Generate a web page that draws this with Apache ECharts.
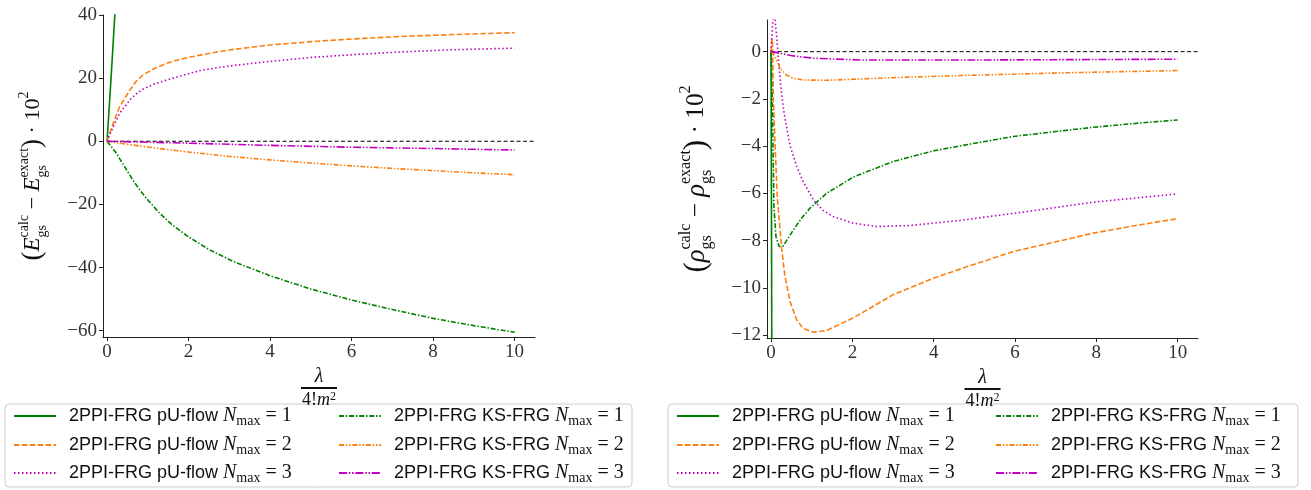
<!DOCTYPE html>
<html><head><meta charset="utf-8">
<script src="https://cdn.jsdelivr.net/npm/echarts@6/dist/echarts.min.js"></script>
<style>html,body{margin:0;padding:0;background:#fff}#c{width:1311px;height:490px}</style>
</head><body><div id="c"></div><script>
// ---------- data ----------
const xTicks = [0, 2, 4, 6, 8, 10];
const yTicksE = [-60, -40, -20, 0, 20, 40];
const yTicksRho = [-12, -10, -8, -6, -4, -2, 0];
const zeroLine = [[0, 0], [10.5, 0]];

// Energy deviation (left panel)
const pU1_E = [[0,0],[0.1,20.5],[0.2,42],[0.3,64]];
const pU2_E = [[0,0],[0.05,2],[0.15,5.7],[0.31,11],[0.56,16.2],[0.7,18.8],[0.88,21],[1.15,23.0],[1.46,24.7],[1.8,26.0],[2.28,27.3],[2.7,28.3],[3.1,29.1],[4,30.5],[5.06,31.6],[6,32.4],[7.2,33.2],[8.5,33.8],[10,34.4]];
const pU3_E = [[0,0],[0.05,1.6],[0.15,4.6],[0.31,8.9],[0.56,13.1],[0.7,14.9],[0.88,16.5],[1.15,18.1],[1.46,19.4],[1.8,20.7],[2.28,22.4],[2.7,23.3],[3.1,24.0],[3.92,25.2],[5.06,26.6],[6,27.4],[7.2,28.3],[8.5,29.0],[10,29.5]];
const KS1_E = [[0,0],[0.1,-1.6],[0.23,-3.8],[0.35,-6.4],[0.48,-9.1],[0.63,-12.2],[0.8,-15.4],[1.0,-18.6],[1.29,-22.8],[1.6,-26.5],[1.99,-30.2],[2.5,-34.3],[3.1,-38.1],[4,-42.6],[5,-46.8],[6,-50.3],[7,-53.3],[8,-56.1],[9,-58.4],[10,-60.5]];
const KS2_E = [[0,0],[0.3,-0.6],[0.8,-1.5],[1.4,-2.5],[2,-3.4],[3,-4.8],[4,-5.9],[5,-6.9],[6,-7.8],[7,-8.6],[8,-9.3],[9,-10.0],[10,-10.6]];
const KS3_E = [[0,0],[1,-0.3],[2,-0.6],[3,-0.95],[4,-1.3],[5,-1.6],[6,-1.9],[7,-2.1],[8,-2.3],[9,-2.55],[10,-2.76]];

// Density deviation (right panel)
const pU1_R = [[0,0],[0.02,-14]];
const pU2_R = [[0,0],[0.02,0.55],[0.035,0.4],[0.057,-2.0],[0.1,-4.0],[0.155,-6.2],[0.26,-8.3],[0.34,-9.5],[0.47,-10.6],[0.63,-11.35],[0.79,-11.72],[1.04,-11.88],[1.37,-11.8],[2.02,-11.27],[3,-10.29],[4,-9.58],[5,-9.0],[5.96,-8.46],[7,-8.05],[7.93,-7.68],[9,-7.35],[10,-7.07]];
const pU3_R = [[0,0],[0.03,1.0],[0.06,1.6],[0.09,1.5],[0.14,0.6],[0.18,-0.3],[0.24,-1.5],[0.32,-2.6],[0.47,-4.0],[0.63,-4.85],[0.79,-5.5],[1.05,-6.3],[1.3,-6.75],[1.53,-6.98],[2.02,-7.26],[2.6,-7.4],[3.42,-7.36],[4.65,-7.14],[6.29,-6.77],[7.93,-6.37],[10,-6.02]];
const KS1_R = [[0,0],[0.02,-1.5],[0.04,-3.0],[0.07,-6.55],[0.12,-7.82],[0.2,-8.25],[0.3,-8.22],[0.55,-7.54],[0.75,-7.05],[0.96,-6.62],[1.37,-5.99],[2.02,-5.31],[3,-4.65],[3.99,-4.2],[5,-3.88],[5.96,-3.59],[7,-3.38],[7.93,-3.2],[9,-3.03],[10,-2.89]];
const KS2_R = [[0,0],[0.04,0],[0.1,-0.21],[0.22,-0.7],[0.38,-0.99],[0.55,-1.13],[0.79,-1.2],[1.37,-1.21],[2,-1.17],[3,-1.10],[4.65,-1.01],[7.1,-0.9],[10,-0.8]];
const KS3_R = [[0,0],[0.22,-0.07],[0.55,-0.18],[1.04,-0.28],[2.19,-0.35],[5.47,-0.35],[10,-0.32]];

const seriesNames = ['pU1','pU2','pU3','KS1','KS2','KS3'];
const legendMethod = {pU1:'2PPI-FRG pU-flow ', pU2:'2PPI-FRG pU-flow ', pU3:'2PPI-FRG pU-flow ', KS1:'2PPI-FRG KS-FRG ', KS2:'2PPI-FRG KS-FRG ', KS3:'2PPI-FRG KS-FRG '};
const legendN = {pU1:'1', pU2:'2', pU3:'3', KS1:'1', KS2:'2', KS3:'3'};

// ---------- styles ----------
const GREEN = '#008000', ORANGE = '#ff7f0e', MAG = '#bf00bf';
const styles = {
  pU1: {color: GREEN, type: 'solid'},
  pU2: {color: ORANGE, type: [5.5, 2.4]},
  pU3: {color: MAG, type: [1.5, 2.5]},
  KS1: {color: GREEN, type: [5, 1.8, 1.5, 1.8]},
  KS2: {color: ORANGE, type: [5, 1.8, 1.5, 1.8, 1.5, 1.8]},
  KS3: {color: MAG, type: [8, 1.8, 1.5, 1.8, 1.5, 1.8]}
};
const dataE = {pU1: pU1_E, pU2: pU2_E, pU3: pU3_E, KS1: KS1_E, KS2: KS2_E, KS3: KS3_E};
const dataR = {pU1: pU1_R, pU2: pU2_R, pU3: pU3_R, KS1: KS1_R, KS2: KS2_R, KS3: KS3_R};

const SERIF = 'Liberation Serif';
const fmt = v => String(v).replace('-', '\u2212');

function mkX(idx) {
  return {
    gridIndex: idx, type: 'value', min: -0.1, max: 10.5,
    axisLine: {show: true, onZero: false, lineStyle: {color: '#222', width: 1}},
    axisTick: {show: true, length: 4, customValues: xTicks, lineStyle: {color: '#222', width: 1}},
    axisLabel: {customValues: xTicks, fontFamily: SERIF, fontSize: 19, color: '#333', margin: 6, formatter: fmt},
    splitLine: {show: false},
    name: '{l|\u03bb}\n{bar| }\n{d|4!}{m|m}{sq|2}',
    nameLocation: 'middle', nameGap: 30,
    nameTextStyle: {
      rich: {
        l: {fontFamily: SERIF, fontStyle: 'italic', fontSize: 20, lineHeight: 17, color: '#111'},
        bar: {width: 36, height: 2, lineHeight: 5, backgroundColor: '#111', fontSize: 2},
        d: {fontFamily: SERIF, fontSize: 18, lineHeight: 20, color: '#111'},
        m: {fontFamily: SERIF, fontStyle: 'italic', fontSize: 18, lineHeight: 20, color: '#111'},
        sq: {fontFamily: SERIF, fontSize: 12, lineHeight: 14, verticalAlign: 'top', color: '#111'}
      }
    }
  };
}
function titleRich(k) {
  return {
    p: {fontFamily: SERIF, fontSize: 27 * k, lineHeight: 32 * k, color: '#111', align: 'left'},
    E: {fontFamily: SERIF, fontStyle: 'italic', fontSize: 23 * k, lineHeight: 32 * k, color: '#111', align: 'left'},
    sp: {fontFamily: SERIF, fontSize: 14 * k, lineHeight: 19 * k, verticalAlign: 'top', color: '#111', align: 'left'},
    sb: {fontFamily: SERIF, fontSize: 14 * k, lineHeight: 18 * k, verticalAlign: 'bottom', color: '#111', align: 'left', width: 0},
    o: {fontFamily: SERIF, fontSize: 22 * k, lineHeight: 32 * k, color: '#111', align: 'left'}
  };
}
function mkY(idx, min, max, ticks, name, k, gap) {
  return {
    gridIndex: idx, type: 'value', min: min, max: max,
    axisLine: {show: true, onZero: false, lineStyle: {color: '#222', width: 1}},
    axisTick: {show: true, length: 4, customValues: ticks, lineStyle: {color: '#222', width: 1}},
    axisLabel: {customValues: ticks, fontFamily: SERIF, fontSize: 19, color: '#333', margin: 6, formatter: fmt},
    splitLine: {show: false},
    name: name, nameLocation: 'middle', nameGap: gap, nameRotate: 90,
    nameTextStyle: {rich: titleRich(k)}
  };
}
const nameE = '{p|(}{E|E}{sb|gs}{sp|calc}{o| \u2212 }{E|E}{sb|gs}{sp|exact}{p|)}{o| \u00b7 10}{sp|2}';
const nameR = '{p|(}{E|\u03c1}{sb|gs}{sp|calc}{o| \u2212 }{E|\u03c1}{sb|gs}{sp|exact}{p|)}{o| \u00b7 10}{sp|2}';

const series = [];
[[0, dataE], [1, dataR]].forEach(([gi, dset]) => {
  seriesNames.forEach(n => {
    series.push({
      name: n, type: 'line', xAxisIndex: gi, yAxisIndex: gi, data: dset[n],
      symbol: 'none', showSymbol: false, smooth: false,
      clip: true, animation: false,
      lineStyle: {color: styles[n].color, width: 1.6, type: styles[n].type},
      itemStyle: {color: styles[n].color}
    });
  });
  series.push({
    name: 'zero', type: 'line', xAxisIndex: gi, yAxisIndex: gi, data: zeroLine,
    symbol: 'none', animation: false, z: 1,
    lineStyle: {color: '#000', width: 1, type: [4, 2.5]}
  });
});

const legRich = {
  t: {fontFamily: 'Liberation Sans', fontSize: 18, lineHeight: 24, color: '#111'},
  mi: {fontFamily: SERIF, fontStyle: 'italic', fontSize: 20, lineHeight: 24, color: '#111'},
  sub: {fontFamily: SERIF, fontSize: 14, lineHeight: 14, verticalAlign: 'bottom', color: '#111'},
  r: {fontFamily: SERIF, fontSize: 20, lineHeight: 24, color: '#111'}
};
function legFmt(n) { return '{t|' + legendMethod[n] + '}{mi|N}{sub|max}{r| = ' + legendN[n] + '}'; }
const legends = [];
const blocks = [{x1: 13, x2: 338}, {x1: 676, x2: 995}];
const rowsTop = [406, 435, 463];
blocks.forEach(b => {
  seriesNames.forEach((n, i) => {
    legends.push({
      data: [n], left: i < 3 ? b.x1 : b.x2, top: rowsTop[i % 3], padding: 0,
      itemWidth: 42, itemHeight: 14, selectedMode: false,
      itemStyle: {opacity: 0, borderWidth: 0},
      formatter: legFmt, textStyle: {rich: legRich, padding: [0, 0, 0, 8]}
    });
  });
});

const chart = echarts.init(document.getElementById('c'), null, {renderer: 'canvas'});
chart.setOption({
  backgroundColor: '#fff',
  animation: false,
  grid: [
    {left: 103, top: 15, width: 432, height: 322},
    {left: 767, top: 20, width: 431, height: 318}
  ],
  xAxis: [mkX(0), mkX(1)],
  yAxis: [mkY(0, -62, 40, yTicksE, nameE, 1, 54), mkY(1, -12.12, 1.34, yTicksRho, nameR, 1.15, 52)],
  legend: legends,
  graphic: [
    {type: 'rect', z: 0, shape: {x: 5, y: 404, width: 627, height: 83, r: 4}, style: {fill: '#fff', stroke: '#ccc', lineWidth: 1}},
    {type: 'rect', z: 0, shape: {x: 668, y: 404, width: 630, height: 83, r: 4}, style: {fill: '#fff', stroke: '#ccc', lineWidth: 1}}
  ],
  series: series
});
</script></body></html>
